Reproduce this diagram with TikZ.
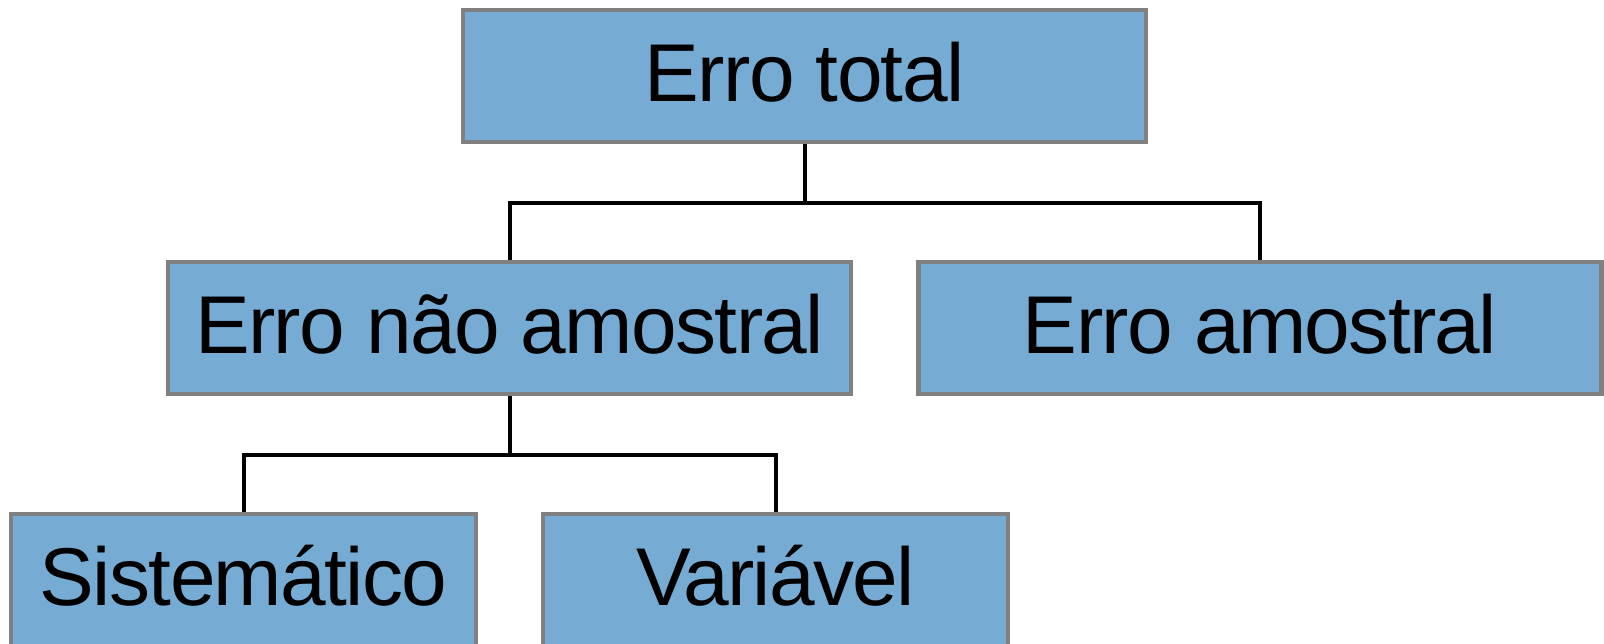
\documentclass[tikz,border=0pt]{standalone}
\usepackage{fontspec}
\setmainfont{Liberation Sans}
\newfontfamily\boxfont[LetterSpace=-2.0]{Liberation Sans}
\definecolor{boxblue}{RGB}{118,172,212}
\definecolor{boxgray}{RGB}{128,128,128}

\begin{document}
\begin{tikzpicture}[x=0.5pt, y=-0.5pt,
    box/.style={draw=boxgray, fill=boxblue, line width=2.2pt, inner sep=0pt,
      minimum height=66pt, text height=29pt, text depth=4pt,
      font=\boxfont\fontsize{41}{49}\selectfont},
    wide/.style={box, minimum width=341.5pt},
    narrow/.style={box, minimum width=232.5pt},
    conn/.style={draw=black, line width=2pt}]
      \useasboundingbox (0,0) rectangle (1604,643);
      % levels
      \node[wide]   (total)  at (804.5,76)  {Erro total};
      \node[wide]   (naoam)  at (509.5,328) {Erro não amostral};
      \node[wide]   (amost)  at (1260,328)  {Erro amostral};
      \node[narrow] (sist)   at (243.5,580) {Sistemático};
      \node[narrow] (varia)  at (775.5,580) {Variável};
      % connectors
      \draw[conn] (total.south) -- ++(0,59) coordinate (fork1) -| (naoam.north);
      \draw[conn] (fork1) -| (amost.north);
      \draw[conn] (naoam.south) -- ++(0,59) coordinate (fork2) -| (sist.north);
      \draw[conn] (fork2) -| (varia.north);
\end{tikzpicture}
\end{document}
